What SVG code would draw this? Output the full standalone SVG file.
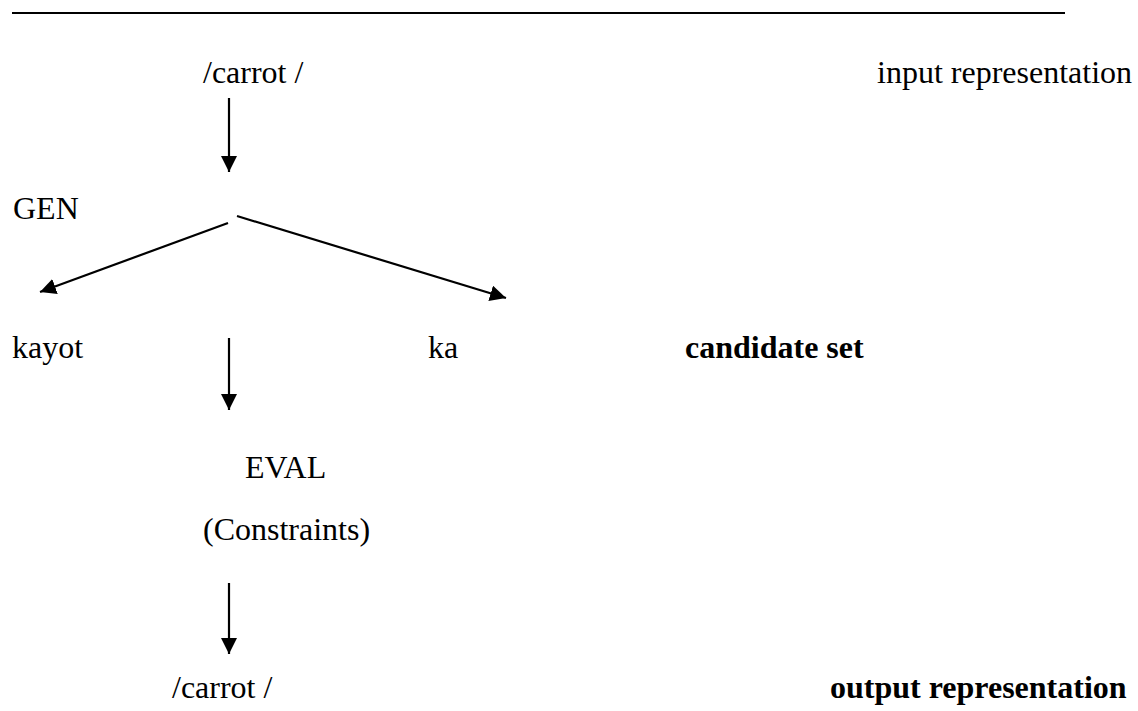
<svg xmlns="http://www.w3.org/2000/svg" width="1138" height="711" viewBox="0 0 1138 711">
<defs>
<style>
text{font-family:"Liberation Serif","Times New Roman",serif;font-size:32px;fill:#000}
.b{font-weight:bold}
.c{stroke:#000;stroke-width:2.2;fill:none}
</style>
<marker id="ah" markerWidth="16" markerHeight="16" viewBox="0 0 16 16" refX="16" refY="8" orient="auto" markerUnits="userSpaceOnUse">
<path d="M0,0 L16,8 L0,16 Z" fill="#000"/>
</marker>
</defs>
<rect width="1138" height="711" fill="#fff"/>
<line x1="12" y1="13" x2="1065" y2="13" stroke="#000" stroke-width="2"/>
<g id="connectors">
<line class="c" x1="229" y1="98" x2="229" y2="172" marker-end="url(#ah)"/>
<line class="c" x1="228" y1="223" x2="40" y2="292" marker-end="url(#ah)"/>
<line class="c" x1="237" y1="216" x2="506" y2="298" marker-end="url(#ah)"/>
<line class="c" x1="229" y1="338" x2="229" y2="410" marker-end="url(#ah)"/>
<line class="c" x1="229" y1="583" x2="229" y2="654" marker-end="url(#ah)"/>
</g>
<g id="input"><text x="203" y="83">/carrot /</text></g>
<g id="input-label"><text x="877" y="83">input representation</text></g>
<g id="gen"><text x="13" y="219">GEN</text></g>
<g id="kayot"><text x="12" y="358">kayot</text></g>
<g id="ka"><text x="428" y="358">ka</text></g>
<g id="candidate-label"><text class="b" x="685" y="358">candidate set</text></g>
<g id="eval"><text x="245" y="478">EVAL</text></g>
<g id="constraints"><text x="203" y="540">(Constraints)</text></g>
<g id="output"><text x="172" y="698">/carrot /</text></g>
<g id="output-label"><text class="b" x="830" y="698">output representation</text></g>
</svg>
